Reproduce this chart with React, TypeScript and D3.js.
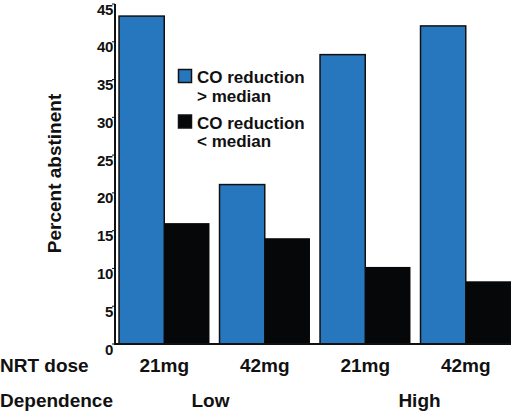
import React from "react";
import * as d3 from "d3";

const groups = ["g1", "g2", "g3", "g4"];
const doseLabels = ["21mg", "42mg", "21mg", "42mg"];
const dependenceLabels = ["Low", "High"];
const seriesNames = ["above", "below"];
const legendLines = [["CO reduction", "> median"], ["CO reduction", "< median"]];
const aboveMedian = [43.4, 21.1, 38.3, 42.1];
const belowMedian = [16.0, 14.0, 10.2, 8.3];
const yTicks = [0, 5, 10, 15, 20, 25, 30, 35, 40, 45];
const colors = ["#2777bf", "#060708"];

const W = 517;
const H = 412;
const FONT = "'Liberation Sans', Arial, Helvetica, sans-serif";

export default function App() {
  const y = d3.scaleLinear().domain([0, 45]).range([344, 4]);
  const x = d3.scaleBand<string>().domain(groups).range([114, 516]).paddingInner(0.1).paddingOuter(0.05);
  const xs = d3.scaleBand<string>().domain(seriesNames).range([0, x.bandwidth()]);
  const values = [aboveMedian, belowMedian];
  const axisX = 115;

  return (
    <div style={{ position: "absolute", left: 0, top: 0 }}>
      <svg width={W} height={H} style={{ display: "block", fontFamily: FONT, fontWeight: "bold" }}>
        <rect width={W} height={H} fill="#fff" />
        {values.map((vals, si) =>
          vals.map((v, gi) => (
            <rect
              key={`${si}-${gi}`}
              x={(x(groups[gi]) as number) + (xs(seriesNames[si]) as number)}
              y={y(v)}
              width={xs.bandwidth()}
              height={y(0) - y(v)}
              fill={colors[si]}
              stroke={si === 0 ? "#111" : "none"}
              strokeWidth={1.5}
            />
          ))
        )}
        {/* y axis */}
        <line x1={axisX} x2={axisX} y1={y(45)} y2={y(0)} stroke="#111" strokeWidth={2} />
        <line x1={axisX - 1} x2={(x(groups[3]) as number) + x.bandwidth()} y1={y(0)} y2={y(0)} stroke="#111" strokeWidth={2} />
        {yTicks.map((t) => (
          <g key={t}>
            <line x1={axisX - 3} x2={axisX} y1={y(t)} y2={y(t)} stroke="#111" strokeWidth={1} />
            <text x={axisX - 2} y={y(t) + 10.5} textAnchor="end" fontSize={15} letterSpacing={-0.4} fill="#111">
              {t}
            </text>
          </g>
        ))}
        <text
          transform={`translate(61, ${(93 + 254) / 2}) rotate(-90)`}
          textAnchor="middle"
          fontSize={19}
          fill="#111"
        >
          Percent abstinent
        </text>
        {/* legend */}
        {legendLines.map((lines, i) => (
          <g key={i} transform={`translate(0, ${i * 45.5})`}>
            <rect x={178.5} y={69.5} width={13} height={13} fill={colors[i]} stroke="#111" strokeWidth={1.5} />
            <text x={197} y={83} fontSize={17} fill="#111">{lines[0]}</text>
            <text x={197} y={101.5} fontSize={17} fill="#111">{lines[1]}</text>
          </g>
        ))}
        {/* x labels */}
        <text x={0} y={372} fontSize={19} fill="#111">NRT dose</text>
        {doseLabels.map((d, i) => (
          <text key={i} x={(x(groups[i]) as number) + x.bandwidth() / 2} y={372} textAnchor="middle" fontSize={19} fill="#111">
            {d}
          </text>
        ))}
        <text x={0} y={407} fontSize={19} fill="#111">Dependence</text>
        {dependenceLabels.map((d, i) => {
          const a = x(groups[i * 2]) as number;
          const b = (x(groups[i * 2 + 1]) as number) + x.bandwidth();
          return (
            <text key={d} x={(a + b) / 2 - (i === 0 ? 4 : -4)} y={407} textAnchor="middle" fontSize={19} fill="#111">
              {d}
            </text>
          );
        })}
      </svg>
    </div>
  );
}
